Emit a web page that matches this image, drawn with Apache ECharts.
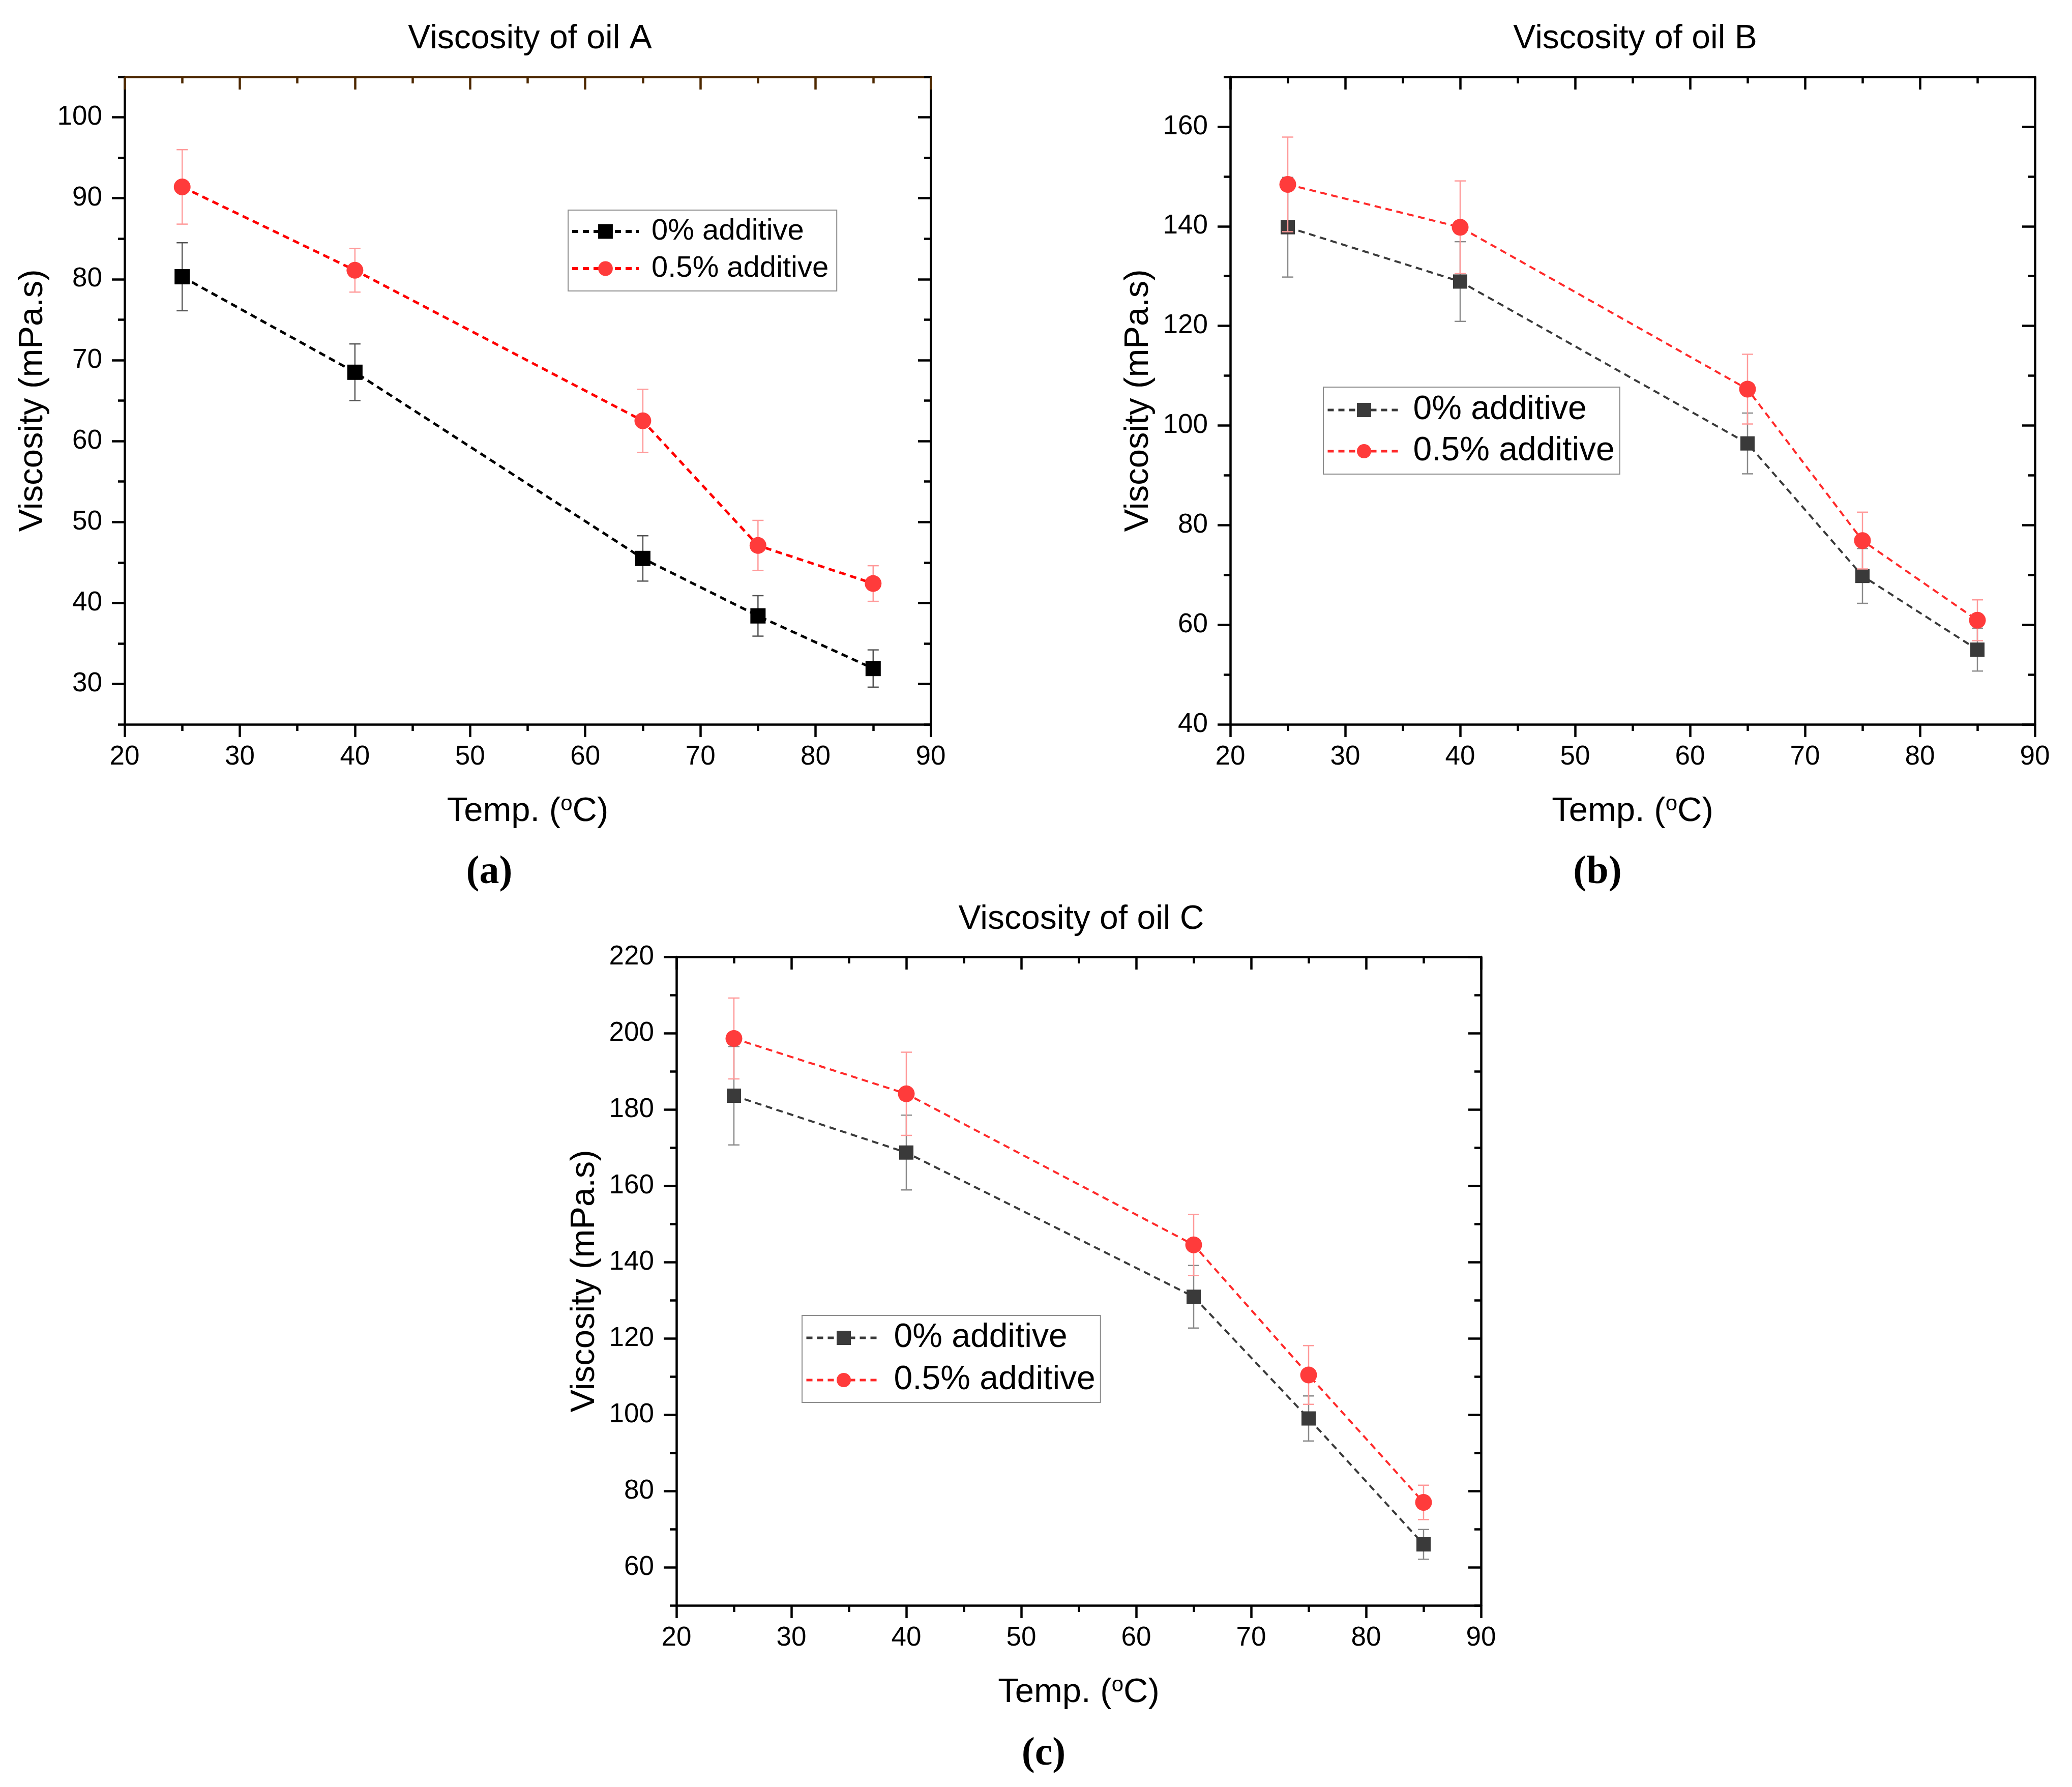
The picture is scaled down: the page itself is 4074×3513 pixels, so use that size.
<!DOCTYPE html>
<html>
<head>
<meta charset="utf-8">
<title>Viscosity of oils</title>
<script src="https://cdn.jsdelivr.net/npm/echarts@6/dist/echarts.min.js"></script>
<style>
  html, body { margin: 0; padding: 0; background: #fff; }
  #chart { width: 4074px; height: 3513px; }
</style>
</head>
<body>
<div id="chart"></div>
<script>
// temperatures (oC)
const temps = [25, 40, 65, 75, 85];

// oil A
const oilA0 = [80.3, 68.5, 45.5, 38.4, 31.9];
const oilA0Err = [4.2, 3.5, 2.8, 2.5, 2.3];
const oilA5 = [91.4, 81.1, 62.5, 47.1, 42.4];
const oilA5Err = [4.6, 2.7, 3.9, 3.1, 2.2];

// oil B
const oilB0 = [139.8, 128.9, 96.4, 69.8, 55.0];
const oilB0Err = [10.0, 8.0, 6.1, 5.5, 4.3];
const oilB5 = [148.4, 139.8, 107.3, 76.9, 60.9];
const oilB5Err = [9.5, 9.3, 7.0, 5.7, 4.1];

// oil C
const oilC0 = [183.6, 168.7, 130.9, 99.0, 66.0];
const oilC0Err = [12.9, 9.8, 8.2, 5.9, 3.9];
const oilC5 = [198.6, 184.1, 144.5, 110.4, 77.0];
const oilC5Err = [10.6, 10.9, 8.0, 7.7, 4.5];

// tick labels
const yTicksA = [30, 40, 50, 60, 70, 80, 90, 100];
const yMinorA = [25, 35, 45, 55, 65, 75, 85, 95, 105];
const yTicksB = [40, 60, 80, 100, 120, 140, 160];
const yMinorB = [50, 70, 90, 110, 130, 150, 170];
const yTicksC = [60, 80, 100, 120, 140, 160, 180, 200, 220];
const yMinorC = [50, 70, 90, 110, 130, 150, 170, 190, 210];

const seriesNames = ['0% additive', '0.5% additive'];
const titles = ['Viscosity of oil A', 'Viscosity of oil B', 'Viscosity of oil C'];
const panelTags = ['a', 'b', 'c'];

const SANS = 'Liberation Sans, Arial, sans-serif';
const SERIF = 'Liberation Serif, Times New Roman, serif';

const panels = [
  {
    key: 'A', grid: { left: 245, top: 151, width: 1585, height: 1273 },
    yMin: 25, yMax: 105, ticks: yTicksA, minor: yMinorA,
    d0: oilA0, e0: oilA0Err, d5: oilA5, e5: oilA5Err,
    c0: '#000000', err0: '#555555', c5: '#ff0000', m5: '#ff3b3b', err5: '#ff9a9a',
    sq: 30, ci: 33, lw: 5, topColor: '#4d2800',
    legend: { left: 1117, top: 413, font: 58, itemWidth: 131, itemHeight: 36, padding: [13, 16, 15, 5], gap: 15 },
    titleX: 1037, titleY: 39, tagX: 957, tagY: 1672
  },
  {
    key: 'B', grid: { left: 2419, top: 151, width: 1582, height: 1273 },
    yMin: 40, yMax: 170, ticks: yTicksB, minor: yMinorB,
    d0: oilB0, e0: oilB0Err, d5: oilB5, e5: oilB5Err,
    c0: '#3a3a3a', err0: '#8a8a8a', c5: '#ff2a2a', m5: '#ff3b3b', err5: '#ff9a9a',
    sq: 28, ci: 33, lw: 4, topColor: '#000000',
    legend: { left: 2602, top: 761, font: 66, itemWidth: 143, itemHeight: 35, padding: [12, 10, 12, 6], gap: 15 },
    titleX: 3210, titleY: 39, tagX: 3136, tagY: 1672
  },
  {
    key: 'C', grid: { left: 1330, top: 1881, width: 1582, height: 1275 },
    yMin: 50, yMax: 220, ticks: yTicksC, minor: yMinorC,
    d0: oilC0, e0: oilC0Err, d5: oilC5, e5: oilC5Err,
    c0: '#3a3a3a', err0: '#8a8a8a', c5: '#ff2a2a', m5: '#ff3b3b', err5: '#ff9a9a',
    sq: 28, ci: 33, lw: 4, topColor: '#000000',
    legend: { left: 1577, top: 2586, font: 66, itemWidth: 147, itemHeight: 35, padding: [11, 10, 11, 6], gap: 17 },
    titleX: 2121, titleY: 1770, tagX: 2047, tagY: 3405
  }
];

function pairs(xs, ys) {
  return xs.map((x, i) => [x, ys[i]]);
}
function triples(xs, ys, es) {
  return xs.map((x, i) => [x, ys[i], es[i]]);
}

const CAP = 11;
function errRender(color) {
  return function (params, api) {
    const x = api.value(0), y = api.value(1), e = api.value(2);
    const hi = api.coord([x, y + e]);
    const lo = api.coord([x, y - e]);
    const st = { stroke: color, lineWidth: 2.5 };
    return {
      type: 'group',
      children: [
        { type: 'line', shape: { x1: hi[0], y1: hi[1], x2: lo[0], y2: lo[1] }, style: st },
        { type: 'line', shape: { x1: hi[0] - CAP, y1: hi[1], x2: hi[0] + CAP, y2: hi[1] }, style: st },
        { type: 'line', shape: { x1: lo[0] - CAP, y1: lo[1], x2: lo[0] + CAP, y2: lo[1] }, style: st }
      ]
    };
  };
}

const axisLineStyle = { color: '#000', width: 4.5 };
const grids = [], xAxes = [], yAxes = [], series = [], legends = [], titleList = [];

panels.forEach((p, i) => {
  grids.push(Object.assign({ containLabel: false, outerBoundsMode: 'none' }, p.grid));

  // bottom x axis with labels
  xAxes.push({
    type: 'value', gridIndex: i, position: 'bottom', min: 20, max: 90, interval: 10,
    name: '{t|Temp. (}{s|o}{t|C)}', nameLocation: 'middle', nameGap: 136,
    nameTextStyle: {
      rich: {
        t: { fontSize: 67, fontFamily: SANS, color: '#000', lineHeight: 72 },
        s: { fontSize: 42, fontFamily: SANS, color: '#000', lineHeight: 42, verticalAlign: 'top' }
      }
    },
    axisLine: { onZero: false, lineStyle: axisLineStyle },
    axisTick: { length: 25, lineStyle: { width: 4.5, color: '#000' } },
    minorTick: { show: true, splitNumber: 2, length: 13, lineStyle: { width: 4.5, color: '#000' } },
    axisLabel: { fontSize: 53, fontFamily: SANS, color: '#000', margin: 38 },
    splitLine: { show: false }
  });
  // top x axis, mirror ticks inside
  xAxes.push({
    type: 'value', gridIndex: i, position: 'top', min: 20, max: 90, interval: 10,
    axisLine: { onZero: false, lineStyle: { color: p.topColor, width: 4.5 } },
    axisTick: { inside: true, length: 25, lineStyle: { width: 4.5, color: p.topColor } },
    minorTick: { show: true, splitNumber: 2, length: 13, lineStyle: { width: 4.5, color: p.topColor } },
    axisLabel: { show: false },
    splitLine: { show: false }
  });

  const yBase = { type: 'value', gridIndex: i, min: p.yMin, max: p.yMax, splitLine: { show: false } };
  // left main y axis
  yAxes.push(Object.assign({}, yBase, {
    position: 'left',
    name: 'Viscosity (mPa.s)', nameLocation: 'middle', nameGap: 147,
    nameTextStyle: { fontSize: 67, fontFamily: SANS, color: '#000' },
    axisLine: { onZero: false, lineStyle: axisLineStyle },
    axisTick: { length: 25, customValues: p.ticks, lineStyle: { width: 4.5, color: '#000' } },
    axisLabel: { fontSize: 53, fontFamily: SANS, color: '#000', margin: 44, customValues: p.ticks }
  }));
  // left minor ticks
  yAxes.push(Object.assign({}, yBase, {
    position: 'left',
    axisLine: { show: false, onZero: false },
    axisTick: { length: 13, customValues: p.minor, lineStyle: { width: 4.5, color: '#000' } },
    axisLabel: { show: false }
  }));
  // right main y axis
  yAxes.push(Object.assign({}, yBase, {
    position: 'right',
    axisLine: { onZero: false, lineStyle: axisLineStyle },
    axisTick: { inside: true, length: 25, customValues: p.ticks, lineStyle: { width: 4.5, color: '#000' } },
    axisLabel: { show: false }
  }));
  // right minor ticks
  yAxes.push(Object.assign({}, yBase, {
    position: 'right',
    axisLine: { show: false, onZero: false },
    axisTick: { inside: true, length: 13, customValues: p.minor, lineStyle: { width: 4.5, color: '#000' } },
    axisLabel: { show: false }
  }));

  const xi = 2 * i, yi = 4 * i;
  const n0 = p.key + '|' + seriesNames[0];
  const n5 = p.key + '|' + seriesNames[1];

  series.push({
    type: 'custom', xAxisIndex: xi, yAxisIndex: yi, z: 2,
    renderItem: errRender(p.err0), data: triples(temps, p.d0, p.e0),
    encode: { x: 0, y: 1 }, silent: true
  });
  series.push({
    name: n0, type: 'line', xAxisIndex: xi, yAxisIndex: yi, z: 3,
    data: pairs(temps, p.d0), symbol: 'rect', symbolSize: p.sq,
    itemStyle: { color: p.c0, borderWidth: 0 },
    lineStyle: { color: p.c0, width: p.lw, type: [13, 9] }
  });
  series.push({
    type: 'custom', xAxisIndex: xi, yAxisIndex: yi, z: 4,
    renderItem: errRender(p.err5), data: triples(temps, p.d5, p.e5),
    encode: { x: 0, y: 1 }, silent: true
  });
  series.push({
    name: n5, type: 'line', xAxisIndex: xi, yAxisIndex: yi, z: 5,
    data: pairs(temps, p.d5), symbol: 'circle', symbolSize: p.ci,
    itemStyle: { color: p.m5, borderWidth: 0 },
    lineStyle: { color: p.c5, width: p.lw, type: [13, 9] }
  });

  legends.push({
    data: [n0, n5], orient: 'vertical', left: p.legend.left, top: p.legend.top,
    itemWidth: p.legend.itemWidth, itemHeight: p.legend.itemHeight, itemGap: p.legend.gap,
    padding: p.legend.padding, borderColor: '#8c8c8c', borderWidth: 2, backgroundColor: '#fff',
    selectedMode: false,
    lineStyle: { width: p.lw + 1, type: [12, 9] },
    formatter: name => name.split('|')[1],
    textStyle: { fontSize: p.legend.font, fontFamily: SANS, color: '#000', padding: [0, 0, 0, 20] }
  });

  titleList.push({
    text: titles[i], left: p.titleX, top: p.titleY, textAlign: 'center',
    textStyle: { fontSize: 66, fontWeight: 'normal', fontFamily: SANS, color: '#000' }
  });
  titleList.push({
    text: '{p|(}{b|' + panelTags[i] + '}{p|)}', left: p.tagX, top: p.tagY, textAlign: 'center',
    textStyle: {
      rich: {
        p: { fontSize: 78, fontFamily: SERIF, color: '#000' },
        b: { fontSize: 78, fontFamily: SERIF, fontWeight: 'bold', color: '#000' }
      }
    }
  });
});

const chart = echarts.init(document.getElementById('chart'));
chart.setOption({
  animation: false,
  backgroundColor: '#ffffff',
  title: titleList,
  legend: legends,
  grid: grids,
  xAxis: xAxes,
  yAxis: yAxes,
  series: series
});
</script>
</body>
</html>
